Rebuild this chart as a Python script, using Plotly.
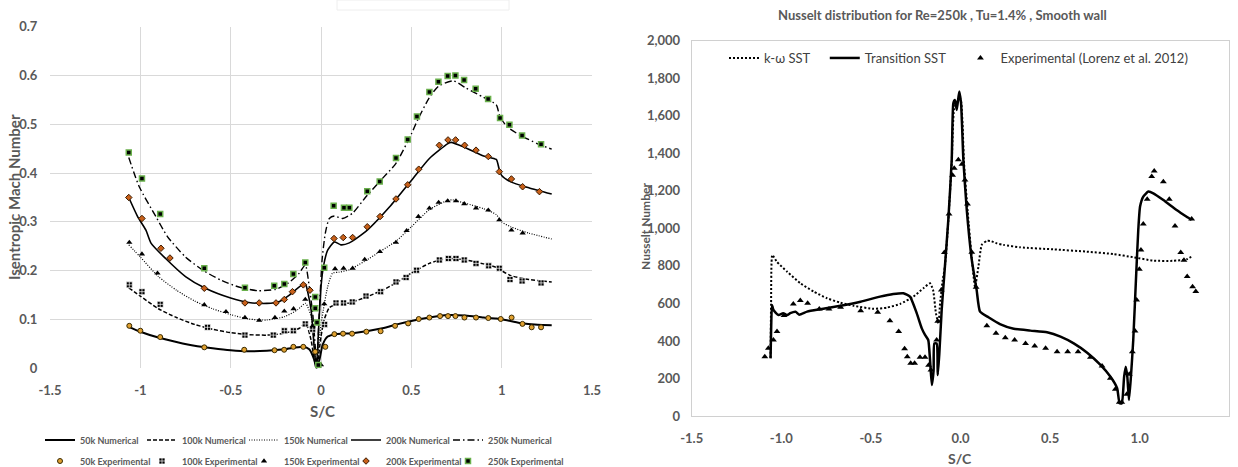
import plotly.graph_objects as go

# ---------------- Left chart data: Isentropic Mach number vs S/C ----------------
n50_x = [-1.064, -1.0, -0.9, -0.8, -0.7, -0.6, -0.5, -0.4, -0.3, -0.2, -0.1, -0.065, -0.037, -0.026, -0.009, 0.009, 0.037, 0.083, 0.175, 0.34, 0.42, 0.5, 0.6, 0.7, 0.8, 0.9, 0.97, 1.02, 1.1, 1.2, 1.277]
n50_y = [0.085, 0.075, 0.063, 0.054, 0.046, 0.041, 0.037, 0.035, 0.036, 0.039, 0.044, 0.039, 0.017, 0.0, 0.017, 0.048, 0.065, 0.070, 0.072, 0.082, 0.090, 0.097, 0.104, 0.109, 0.108, 0.104, 0.102, 0.099, 0.093, 0.089, 0.088]

n100_x = [-1.064, -1.0, -0.9, -0.8, -0.7, -0.6, -0.5, -0.4, -0.3, -0.2, -0.12, -0.085, -0.055, -0.037, -0.024, -0.012, 0.0, 0.018, 0.046, 0.083, 0.157, 0.25, 0.34, 0.42, 0.5, 0.6, 0.7, 0.8, 0.9, 0.97, 1.0, 1.05, 1.15, 1.277]
n100_y = [0.165, 0.148, 0.122, 0.104, 0.090, 0.080, 0.073, 0.069, 0.068, 0.072, 0.082, 0.092, 0.058, 0.017, 0.0, 0.030, 0.065, 0.100, 0.124, 0.131, 0.134, 0.146, 0.160, 0.176, 0.195, 0.215, 0.225, 0.222, 0.214, 0.207, 0.200, 0.190, 0.182, 0.177]

n150_x = [-1.064, -1.0, -0.9, -0.8, -0.7, -0.6, -0.5, -0.4, -0.3, -0.2, -0.13, -0.085, -0.055, -0.037, -0.025, -0.006, 0.013, 0.037, 0.064, 0.1, 0.157, 0.24, 0.33, 0.42, 0.5, 0.6, 0.7, 0.73, 0.8, 0.9, 0.97, 1.0, 1.05, 1.15, 1.277]
n150_y = [0.253, 0.228, 0.188, 0.160, 0.138, 0.122, 0.110, 0.101, 0.099, 0.106, 0.120, 0.133, 0.106, 0.045, 0.0, 0.072, 0.120, 0.167, 0.195, 0.197, 0.202, 0.219, 0.240, 0.262, 0.290, 0.325, 0.344, 0.345, 0.338, 0.327, 0.315, 0.300, 0.290, 0.277, 0.265]

n200_x = [-1.064, -1.015, -0.969, -0.94, -0.86, -0.75, -0.64, -0.5, -0.4, -0.3, -0.23, -0.175, -0.1, -0.085, -0.074, -0.055, -0.037, -0.026, -0.012, 0.0, 0.013, 0.037, 0.074, 0.11, 0.157, 0.25, 0.38, 0.5, 0.6, 0.7, 0.72, 0.8, 0.9, 0.97, 0.985, 1.0, 1.05, 1.15, 1.277]
n200_y = [0.350, 0.311, 0.283, 0.256, 0.225, 0.188, 0.164, 0.144, 0.135, 0.133, 0.137, 0.150, 0.172, 0.172, 0.157, 0.120, 0.040, 0.0, 0.090, 0.167, 0.208, 0.242, 0.259, 0.253, 0.257, 0.281, 0.331, 0.385, 0.430, 0.460, 0.463, 0.452, 0.435, 0.428, 0.410, 0.395, 0.382, 0.370, 0.357]

n250_x = [-1.064, -1.006, -0.914, -0.85, -0.75, -0.65, -0.55, -0.45, -0.35, -0.25, -0.18, -0.12, -0.087, -0.065, -0.046, -0.032, -0.024, -0.01, 0.006, 0.024, 0.046, 0.074, 0.12, 0.175, 0.25, 0.33, 0.415, 0.5, 0.535, 0.6, 0.65, 0.733, 0.8, 0.9, 0.97, 0.99, 1.03, 1.1, 1.2, 1.277]
n250_y = [0.432, 0.372, 0.311, 0.270, 0.228, 0.200, 0.180, 0.166, 0.159, 0.162, 0.175, 0.195, 0.212, 0.167, 0.113, 0.045, 0.0, 0.110, 0.222, 0.277, 0.307, 0.312, 0.307, 0.318, 0.352, 0.385, 0.420, 0.480, 0.509, 0.555, 0.578, 0.589, 0.575, 0.555, 0.540, 0.516, 0.495, 0.478, 0.460, 0.449]

e50_x = [-1.061, -1.0, -0.89, -0.646, -0.425, -0.257, -0.204, -0.153, -0.098, -0.032, -0.015, 0.024, 0.074, 0.122, 0.172, 0.251, 0.33, 0.41, 0.482, 0.541, 0.6, 0.659, 0.703, 0.744, 0.794, 0.858, 0.926, 0.995, 1.055, 1.115, 1.166, 1.218]
e50_y = [0.087, 0.077, 0.064, 0.043, 0.038, 0.037, 0.038, 0.044, 0.044, 0.034, 0.007, 0.044, 0.070, 0.071, 0.071, 0.075, 0.076, 0.087, 0.092, 0.101, 0.104, 0.107, 0.107, 0.107, 0.104, 0.104, 0.103, 0.101, 0.104, 0.091, 0.084, 0.084]

e100_x = [-1.061, -0.991, -0.89, -0.628, -0.421, -0.264, -0.203, -0.153, -0.087, -0.046, 0.02, 0.083, 0.125, 0.173, 0.249, 0.33, 0.415, 0.471, 0.529, 0.655, 0.705, 0.747, 0.793, 0.858, 0.928, 0.987, 1.046, 1.113, 1.218]
e100_y = [0.171, 0.157, 0.131, 0.084, 0.068, 0.068, 0.077, 0.077, 0.091, 0.080, 0.090, 0.134, 0.134, 0.136, 0.148, 0.157, 0.177, 0.186, 0.201, 0.222, 0.225, 0.225, 0.222, 0.215, 0.210, 0.205, 0.182, 0.179, 0.175]

e150_x = [-1.061, -0.991, -0.905, -0.646, -0.526, -0.421, -0.342, -0.255, -0.203, -0.152, -0.087, -0.046, 0.0, 0.018, 0.078, 0.125, 0.175, 0.242, 0.326, 0.415, 0.474, 0.539, 0.6, 0.651, 0.701, 0.747, 0.793, 0.858, 0.926, 0.987, 1.054, 1.116]
e150_y = [0.258, 0.234, 0.195, 0.130, 0.116, 0.104, 0.098, 0.104, 0.117, 0.122, 0.141, 0.087, 0.007, 0.132, 0.204, 0.205, 0.205, 0.223, 0.239, 0.258, 0.282, 0.311, 0.328, 0.340, 0.343, 0.343, 0.337, 0.328, 0.324, 0.304, 0.283, 0.277]

e200_x = [-1.064, -0.991, -0.886, -0.836, -0.646, -0.421, -0.342, -0.249, -0.203, -0.158, -0.098, -0.061, 0.072, 0.123, 0.175, 0.256, 0.327, 0.415, 0.48, 0.541, 0.655, 0.703, 0.745, 0.795, 0.858, 0.926, 0.987, 1.054, 1.116, 1.209]
e200_y = [0.350, 0.307, 0.246, 0.226, 0.164, 0.134, 0.134, 0.134, 0.141, 0.157, 0.171, 0.160, 0.266, 0.268, 0.268, 0.290, 0.311, 0.347, 0.376, 0.408, 0.457, 0.468, 0.468, 0.457, 0.447, 0.434, 0.403, 0.388, 0.372, 0.362]

e250_x = [-1.064, -0.991, -0.89, -0.646, -0.421, -0.259, -0.203, -0.153, -0.087, -0.032, -0.032, -0.022, -0.015, 0.018, 0.07, 0.127, 0.157, 0.256, 0.325, 0.415, 0.48, 0.531, 0.6, 0.65, 0.701, 0.744, 0.792, 0.856, 0.925, 0.991, 1.043, 1.113, 1.218]
e250_y = [0.442, 0.389, 0.316, 0.205, 0.165, 0.169, 0.173, 0.193, 0.217, 0.146, 0.123, 0.094, 0.007, 0.206, 0.333, 0.329, 0.329, 0.363, 0.383, 0.431, 0.469, 0.516, 0.566, 0.587, 0.599, 0.600, 0.591, 0.573, 0.552, 0.513, 0.499, 0.477, 0.459]

left_xticks = [-1.5, -1.0, -0.5, 0.0, 0.5, 1.0, 1.5]
left_xtext = ["-1.5", "-1", "-0.5", "0", "0.5", "1", "1.5"]
left_yticks = [0, 0.1, 0.2, 0.3, 0.4, 0.5, 0.6, 0.7]
left_ytext = ["0", "0.1", "0.2", "0.3", "0.4", "0.5", "0.6", "0.7"]

# ---------------- Right chart data: Nusselt number vs S/C ----------------
kw_x = [-1.06, -1.057, -1.05, -1.025, -0.967, -0.893, -0.819, -0.744, -0.67, -0.595, -0.484, -0.41, -0.337, -0.263, -0.207, -0.17, -0.153, -0.137, -0.123, -0.114, -0.1, -0.087, -0.068, -0.049, -0.035, -0.015, 0.0, 0.02, 0.04, 0.063, 0.081, 0.1, 0.119, 0.147, 0.165, 0.203, 0.239, 0.332, 0.518, 0.704, 0.853, 0.965, 1.076, 1.188, 1.262, 1.295]
kw_y = [310, 600, 858, 822, 769, 707, 663, 627, 604, 587, 571, 578, 597, 636, 681, 707, 672, 547, 494, 600, 720, 796, 1040, 1350, 1640, 1680, 1690, 1340, 1090, 840, 689, 796, 912, 933, 933, 920, 912, 899, 888, 876, 863, 846, 828, 827, 835, 853]

tr_x = [-1.06, -1.057, -1.052, -1.044, -1.016, -0.99, -0.967, -0.95, -0.921, -0.9, -0.856, -0.782, -0.67, -0.558, -0.449, -0.375, -0.319, -0.282, -0.244, -0.216, -0.198, -0.18, -0.17, -0.16, -0.15, -0.146, -0.133, -0.127, -0.118, -0.105, -0.087, -0.068, -0.049, -0.04, -0.031, -0.021, -0.007, 0.003, 0.016, 0.035, 0.063, 0.09, 0.109, 0.156, 0.22, 0.297, 0.39, 0.483, 0.558, 0.632, 0.707, 0.781, 0.837, 0.874, 0.888, 0.9, 0.913, 0.922, 0.931, 0.94, 0.951, 0.964, 0.979, 0.992, 1.002, 1.02, 1.048, 1.076, 1.132, 1.206, 1.262, 1.29]
tr_y = [307, 450, 592, 565, 538, 548, 538, 548, 556, 540, 556, 569, 587, 609, 636, 650, 654, 636, 547, 467, 432, 405, 298, 165, 245, 387, 387, 218, 334, 565, 796, 1045, 1364, 1667, 1684, 1631, 1729, 1667, 1364, 1098, 832, 672, 556, 526, 490, 465, 455, 446, 423, 387, 337, 272, 209, 148, 68, 68, 209, 263, 209, 85, 209, 405, 725, 991, 1116, 1169, 1196, 1187, 1151, 1098, 1062, 1045]

ex_x = [-1.092, -1.072, -1.044, -1.024, -0.985, -0.933, -0.894, -0.853, -0.788, -0.734, -0.669, -0.557, -0.462, -0.394, -0.345, -0.312, -0.297, -0.278, -0.256, -0.226, -0.198, -0.178, -0.165, -0.133, -0.127, -0.107, -0.09, -0.064, -0.044, -0.035, -0.012, 0.008, 0.025, 0.039, 0.063, 0.087, 0.147, 0.198, 0.25, 0.302, 0.363, 0.414, 0.475, 0.539, 0.598, 0.656, 0.725, 0.79, 0.836, 0.864, 0.886, 0.9, 0.928, 0.942, 0.959, 0.974, 0.983, 0.998, 1.007, 1.02, 1.042, 1.067, 1.081, 1.132, 1.165, 1.197, 1.229, 1.247, 1.265, 1.29, 1.295, 1.313]
ex_y = [316, 361, 405, 450, 535, 597, 615, 601, 570, 570, 579, 561, 553, 508, 450, 359, 316, 281, 281, 313, 313, 270, 245, 405, 505, 672, 871, 1077, 1283, 1320, 1366, 1342, 1258, 1130, 872, 686, 481, 441, 417, 405, 387, 373, 361, 343, 343, 343, 313, 267, 201, 142, 73, 73, 116, 222, 343, 453, 618, 782, 885, 1023, 1155, 1276, 1306, 1249, 1155, 1013, 871, 830, 743, 1050, 689, 663]

right_xticks = [-1.5, -1.0, -0.5, 0.0, 0.5, 1.0, 1.5]
right_xtext = ["-1.5", "-1.0", "-0.5", "0.0", "0.5", "1.0", "1.5"]

# ---------------- Figure ----------------
W, H = 1238, 467
def PX(v): return v / W
def PY(v): return 1 - v / H

FONT = "Lato, Open Sans, sans-serif"
GRAY = "#595959"
NB = "\u00a0"

fig = go.Figure()

num_series = [
    ("50k Numerical", n50_x, n50_y, "solid", 2.0),
    ("100k Numerical", n100_x, n100_y, "4px,2px", 1.5),
    ("150k Numerical", n150_x, n150_y, "1px,1.5px", 1.2),
    ("200k Numerical", n200_x, n200_y, "solid", 1.6),
    ("250k Numerical", n250_x, n250_y, "7px,3px,1.5px,3px", 1.4),
]
for name, xs, ys, dash, w in num_series:
    fig.add_trace(go.Scatter(x=xs, y=ys, mode="lines", name=name, legend="legend",
                             line=dict(color="black", width=w, dash=dash, shape="spline", smoothing=0.6),
                             xaxis="x", yaxis="y"))
# invisible spacer entry so the last visible legend entry is not clipped
fig.add_trace(go.Scatter(x=[None], y=[None], mode="lines", name=NB, legend="legend",
                         line=dict(color="rgba(0,0,0,0)", width=0), xaxis="x", yaxis="y",
                         hoverinfo="skip"))

exp_series = [
    ("50k Experimental", e50_x, e50_y, dict(symbol="circle", size=5, color="#E0A030", line=dict(color="#3a2a00", width=1))),
    ("100k Experimental", e100_x, e100_y, dict(symbol="square-cross", size=6, color="black", line=dict(color="white", width=0.7))),
    ("150k Experimental", e150_x, e150_y, dict(symbol="triangle-up", size=5.5, color="black", line=dict(width=0))),
    ("200k Experimental", e200_x, e200_y, dict(symbol="diamond", size=5, color="#C8601A", line=dict(color="#3a1a00", width=1))),
    ("250k Experimental", e250_x, e250_y, dict(symbol="square", size=5, color="black", line=dict(color="#6AB04C", width=1.5))),
]
for name, xs, ys, mk in exp_series:
    fig.add_trace(go.Scatter(x=xs, y=ys, mode="markers", name=name, legend="legend2",
                             marker=mk, xaxis="x", yaxis="y"))
fig.add_trace(go.Scatter(x=[None], y=[None], mode="lines", name=NB, legend="legend2",
                         line=dict(color="rgba(0,0,0,0)", width=0), xaxis="x", yaxis="y",
                         hoverinfo="skip"))

fig.add_trace(go.Scatter(x=kw_x, y=kw_y, mode="lines", name="k-\u03c9 SST" + NB * 3, legend="legend3",
                         line=dict(color="black", width=2, dash="2px,2px", shape="spline", smoothing=0.5),
                         xaxis="x2", yaxis="y2"))
fig.add_trace(go.Scatter(x=tr_x, y=tr_y, mode="lines", name="Transition SST" + NB * 3, legend="legend3",
                         line=dict(color="black", width=2.5, shape="spline", smoothing=0.5),
                         xaxis="x2", yaxis="y2"))
fig.add_trace(go.Scatter(x=ex_x, y=ex_y, mode="markers", name="Experimental (Lorenz et al. 2012)", legend="legend3",
                         marker=dict(symbol="triangle-up", size=6, color="black"),
                         xaxis="x2", yaxis="y2"))

tickfont = dict(family=FONT, size=13, color=GRAY, weight="bold")
leg_font = dict(family=FONT, size=9, color=GRAY, weight="bold")

fig.update_layout(
    width=W, height=H,
    margin=dict(l=0, r=0, t=0, b=0, autoexpand=False),
    paper_bgcolor="white", plot_bgcolor="white",
    showlegend=True,
    xaxis=dict(domain=[PX(50), PX(592)], range=[-1.5, 1.5], tickvals=left_xticks, ticktext=left_xtext,
               showgrid=True, gridcolor="#d9d9d9", gridwidth=1, zeroline=False, showline=False,
               tickfont=tickfont, ticks="", ticklabelstandoff=13, anchor="y"),
    yaxis=dict(domain=[PY(368.3), PY(26.7)], range=[0, 0.7], tickvals=left_yticks, ticktext=left_ytext,
               showgrid=True, gridcolor="#d9d9d9", gridwidth=1, zeroline=False, showline=False,
               tickfont=tickfont, ticks="outside", ticklen=9, tickcolor="rgba(0,0,0,0)",
               ticklabelstandoff=0, anchor="x"),
    xaxis2=dict(domain=[PX(691.7), PX(1229.3)], range=[-1.5, 1.5], tickvals=right_xticks, ticktext=right_xtext,
                showgrid=False, zeroline=False, showline=True, mirror=True, linecolor="#d0d0d0", linewidth=1,
                tickfont=tickfont, ticks="", ticklabelstandoff=10, anchor="y2"),
    yaxis2=dict(domain=[PY(416), PY(40.7)], range=[0, 2000], dtick=200, tickformat=",",
                showgrid=False, zeroline=False, showline=True, mirror=True, linecolor="#d0d0d0", linewidth=1,
                tickfont=tickfont, ticks="", ticklabelstandoff=8, anchor="x2"),
    legend=dict(orientation="h", x=PX(40), xanchor="left", y=PY(440), yanchor="middle",
                font=leg_font, entrywidth=57, entrywidthmode="pixels",
                bgcolor="rgba(0,0,0,0)", tracegroupgap=0),
    legend2=dict(orientation="h", x=PX(40), xanchor="left", y=PY(461), yanchor="middle",
                 font=leg_font, entrywidth=57, entrywidthmode="pixels",
                 bgcolor="rgba(0,0,0,0)", tracegroupgap=0),
    legend3=dict(orientation="h", x=PX(724), xanchor="left", y=PY(58), yanchor="middle",
                 font=dict(family=FONT, size=13, color="#404040"),
                 bgcolor="rgba(0,0,0,0)"),
    annotations=[
        dict(text="S/C", x=PX(322), y=PY(411), xref="paper", yref="paper", showarrow=False,
             xanchor="center", yanchor="middle",
             font=dict(family=FONT, size=15, color=GRAY, weight="bold")),
        dict(text="Isentropic Mach Number", x=PX(14), y=PY(197), xref="paper", yref="paper", showarrow=False,
             xanchor="center", yanchor="middle", textangle=-90,
             font=dict(family=FONT, size=15, color=GRAY, weight="bold")),
        dict(text="S/C", x=PX(960), y=PY(458), xref="paper", yref="paper", showarrow=False,
             xanchor="center", yanchor="middle",
             font=dict(family=FONT, size=14, color=GRAY, weight="bold")),
        dict(text="Nusselt Number", x=PX(645), y=PY(227), xref="paper", yref="paper", showarrow=False,
             xanchor="center", yanchor="middle", textangle=-90,
             font=dict(family=FONT, size=12, color=GRAY, weight="bold")),
        dict(text="Nusselt distribution for Re=250k , Tu=1.4% , Smooth wall", x=PX(942), y=PY(15),
             xref="paper", yref="paper", showarrow=False, xanchor="center", yanchor="middle",
             font=dict(family=FONT, size=13, color=GRAY, weight="bold")),
    ],
    shapes=[
        dict(type="rect", xref="paper", yref="paper", x0=PX(337), x1=PX(509), y0=PY(10), y1=PY(0),
             line=dict(color="#eeeeee", width=1), fillcolor="rgba(0,0,0,0)"),
    ],
)

fig.write_html("out.html")
